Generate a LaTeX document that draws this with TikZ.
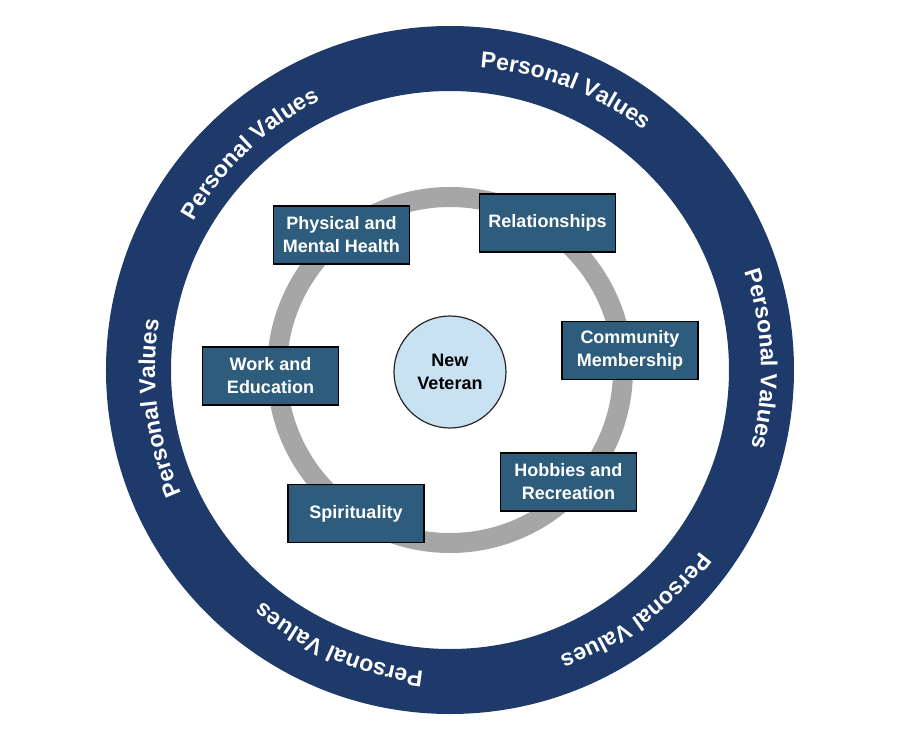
\documentclass[tikz,border=0pt]{standalone}
\usepackage{fontspec}
\setmainfont{Liberation Sans}
\usetikzlibrary{decorations.text}

\definecolor{ringblue}{RGB}{30,58,106}
\definecolor{boxblue}{RGB}{46,92,124}
\definecolor{hubblue}{RGB}{200,226,244}
\definecolor{ringgray}{RGB}{166,166,166}

\begin{document}
\begin{tikzpicture}[x=1pt, y=1pt,
					areanode/.style={rectangle,
					draw=black,
					line width=1.5pt,
					fill=boxblue,
					text=white,
					font=\fontsize{18}{23}\selectfont\bfseries,
					align=center,
					minimum width=136pt,
					minimum height=58pt},
					hubnode/.style={circle,
					draw=black!85,
					line width=1.2pt,
					fill=hubblue,
					font=\fontsize{18}{23}\selectfont\bfseries,
					align=center,
					minimum size=112pt}
					]

\useasboundingbox (-450,-364) rectangle (450,370);

% outer ring
\draw[ringblue, line width=65pt] (0,0) circle (311.5pt);

% ring labels
\foreach \a in {133.9, 69, 2.1, -53.6, -113.3, -172.7}
	\path[shift={(8,0)}, decorate, decoration={text along path, text align=center,
		text={|\fontsize{23}{23}\selectfont\bfseries\color{white}|Personal Values}}]
		(\a+40:303pt) arc[start angle=\a+40, end angle=\a-40, radius=303pt];

% inner ring
\draw[ringgray, line width=20pt] (0,0) circle (173pt);

% centre
\node[hubnode] (Vet) at (0,-2) {New\\Veteran};

% areas
\node[areanode] (Health) at (-108.5,135) {Physical and\\Mental Health};
\node[areanode] (Rel) at (97.5,147) {Relationships};
\node[areanode] (Comm) at (180,19.5) {Community\\Membership};
\node[areanode] (Work) at (-179.5,-6) {Work and\\Education};
\node[areanode] (Hobby) at (118.5,-112) {Hobbies and\\Recreation};
\node[areanode] (Spirit) at (-94,-143.5) {Spirituality};

\end{tikzpicture}
\end{document}
